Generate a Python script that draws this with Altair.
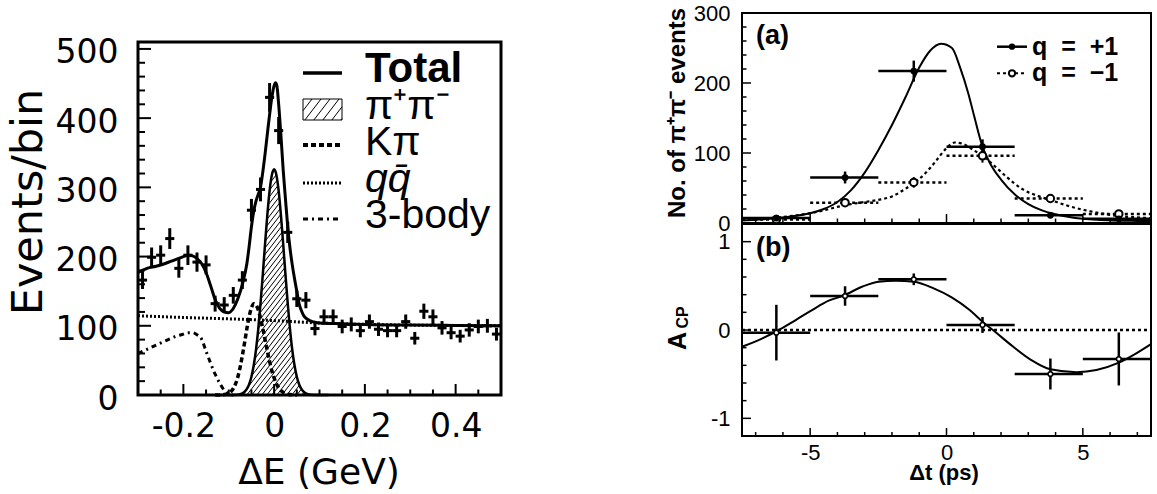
import altair as alt
import numpy as np
import pandas as pd

# ---------------- Delta E spectrum: data points ----------------
de_bins = [-0.29, -0.27, -0.25, -0.23, -0.21, -0.19, -0.17, -0.15, -0.13, -0.11,
           -0.09, -0.07, -0.05, -0.03, -0.01, 0.01, 0.03, 0.05, 0.07, 0.09,
           0.11, 0.13, 0.15, 0.17, 0.19, 0.21, 0.23, 0.25, 0.27, 0.29,
           0.31, 0.33, 0.35, 0.37, 0.39, 0.41, 0.43, 0.45, 0.47, 0.49]
de_counts = [166, 199, 202, 226, 183, 202, 192, 188, 132, 130,
             144, 166, 267, 297, 430, 382, 235, 139, 137, 96,
             113, 113, 99, 102, 93, 106, 95, 93, 93, 106,
             82, 121, 113, 97, 90, 85, 94, 99, 100, 88]
de_errors = [12.9, 14.1, 14.2, 15.0, 13.5, 14.2, 13.9, 13.7, 11.5, 11.4,
             12.0, 12.9, 16.3, 17.2, 20.7, 19.5, 15.3, 11.8, 11.7, 9.8,
             10.6, 10.6, 9.9, 10.1, 9.6, 10.3, 9.7, 9.6, 9.6, 10.3,
             9.1, 11.0, 10.6, 9.8, 9.5, 9.2, 9.7, 9.9, 10.0, 9.4]
DE_HALF_BIN = 0.01

# fit components sampled along Delta E
total_x = [-0.30, -0.28, -0.26, -0.24, -0.22, -0.20, -0.19, -0.18, -0.17, -0.16,
           -0.15, -0.14, -0.13, -0.12, -0.11, -0.10, -0.09, -0.08, -0.07, -0.06,
           -0.055, -0.05, -0.045, -0.04, -0.035, -0.03, -0.025, -0.02, -0.015, -0.01,
           -0.005, 0.0, 0.003, 0.006, 0.01, 0.015, 0.02, 0.025, 0.03, 0.035,
           0.04, 0.045, 0.05, 0.055, 0.06, 0.065, 0.07, 0.08, 0.09, 0.10,
           0.15, 0.20, 0.30, 0.40, 0.50]
total_y = [177, 183, 186, 190, 195, 200, 202, 201, 197, 190,
           177, 158, 138, 125, 120, 119, 125, 139, 160, 190,
           215, 243, 265, 280, 290, 300, 322, 348, 377, 405,
           430, 447, 451, 447, 420, 375, 325, 283, 243, 212,
           188, 168, 150, 132, 122, 115, 111, 107, 105, 104,
           103, 102, 101, 100.5, 100]
pipi_x = [-0.12, -0.10, -0.08, -0.07, -0.065, -0.06, -0.055, -0.05, -0.045, -0.04,
          -0.035, -0.03, -0.025, -0.02, -0.015, -0.01, -0.005, 0.0, 0.005, 0.01,
          0.015, 0.02, 0.025, 0.03, 0.035, 0.04, 0.045, 0.05, 0.055, 0.06,
          0.065, 0.07, 0.08, 0.10, 0.12]
pipi_y = [0, 0, 0.5, 2.4, 4.7, 8.7, 15.6, 26.4, 42.5, 65,
          95, 132, 174, 218, 260, 295, 318, 326, 318, 295,
          260, 218, 174, 132, 95, 65, 42.5, 26.4, 15.6, 8.7,
          4.7, 2.4, 0.5, 0, 0]
kpi_x = [-0.13, -0.12, -0.11, -0.10, -0.095, -0.09, -0.085, -0.08, -0.075, -0.07,
         -0.065, -0.06, -0.055, -0.05, -0.045, -0.04, -0.035, -0.03, -0.025, -0.02,
         -0.015, -0.01, -0.005, 0.0, 0.005, 0.01, 0.015, 0.02, 0.03, 0.04, 0.05]
kpi_y = [0, 0.1, 0.6, 2.6, 5.1, 9.4, 16, 26, 40, 57,
         76, 96, 113.5, 126, 132, 130, 123, 111, 96.5, 80,
         63.6, 48.5, 35, 24.5, 16.4, 10.5, 6.4, 3.8, 1.1, 0.2, 0]
qq_x = [-0.3, -0.2, -0.1, 0.0, 0.1, 0.2, 0.3, 0.4, 0.5]
qq_y = [114.5, 112, 110, 107.5, 104, 102, 101, 100.5, 100]
body3_x = [-0.30, -0.28, -0.26, -0.24, -0.22, -0.20, -0.19, -0.18, -0.17, -0.16,
           -0.15, -0.14, -0.13, -0.12, -0.11, -0.10, -0.09]
body3_y = [60, 66, 72, 78, 84, 88, 90, 90, 87, 81,
           63, 46, 30, 17, 7, 2, 0]

# ---------------- Delta t distributions ----------------
dt_edges = [-7.5, -5.0, -2.5, 0.0, 2.5, 5.0, 7.5]
dt_mean = [-6.24, -3.72, -1.20, 1.32, 3.81, 6.32]
n_plus = [7, 65, 217, 109, 11, 6]
n_plus_err = [2.6, 8.5, 15, 10.5, 3.5, 2.5]
n_minus = [5, 29, 58, 96, 35, 13]
n_minus_err = [2.2, 5.5, 7.6, 9.8, 6, 3.6]
acp = [-0.03, 0.385, 0.574, 0.057, -0.498, -0.328]
acp_err = [0.315, 0.11, 0.066, 0.09, 0.175, 0.30]

plus_fit_x = [-7.5, -7, -6.5, -6, -5.5, -5, -4.5, -4, -3.5, -3,
              -2.5, -2, -1.5, -1, -0.6, -0.2, 0.2, 0.5, 0.8, 1,
              1.32, 1.6, 2, 2.5, 3, 3.5, 4, 4.5, 5, 5.5,
              6, 6.5, 7, 7.5]
plus_fit_y = [3.5, 4.5, 6, 8, 10.5, 14, 20, 30, 47, 72,
              104, 140, 180, 222, 246, 256, 250, 222, 185, 155,
              109, 85, 62, 41, 27, 18, 12.5, 8.5, 6, 4.5,
              3.8, 3.3, 3, 2.8]
minus_fit_x = [-7.5, -6.5, -5.5, -5, -4.5, -4, -3.5, -3, -2.5, -2,
               -1.5, -1.2, -0.8, -0.4, 0, 0.3, 0.6, 1, 1.32, 1.8,
               2.2, 2.8, 3.4, 3.8, 4.5, 5, 5.5, 6.3, 7, 7.5]
minus_fit_y = [4.5, 7, 11, 14, 18, 23, 27, 30, 33, 38,
               49, 57, 70, 88, 107, 115, 113, 104, 96, 80,
               66, 48, 38, 33, 24, 19, 15, 10, 8, 7]
acp_fit_x = [-7.5, -6.75, -6.15, -5.53, -4.93, -4.32, -3.77, -3.1, -2.49, -1.86,
             -1.2, -0.47, 0.19, 0.85, 1.32, 1.78, 2.45, 3.11, 3.81, 4.77,
             5.5, 6.32, 6.96, 7.5]
acp_fit_y = [-0.19, -0.094, 0, 0.113, 0.226, 0.332, 0.39, 0.49, 0.547, 0.558,
             0.547, 0.472, 0.37, 0.226, 0.094, -0.02, -0.19, -0.34, -0.445, -0.477,
             -0.453, -0.37, -0.264, -0.16]

# ---------------- tick positions ----------------
de_major = [-0.2, 0.0, 0.2, 0.4]
de_minor = [-0.25, -0.15, -0.1, -0.05, 0.05, 0.1, 0.15, 0.25, 0.3, 0.35, 0.45]
ev_major = [0, 100, 200, 300, 400, 500]
ev_minor = [20, 40, 60, 80, 120, 140, 160, 180, 220, 240, 260, 280,
            320, 340, 360, 380, 420, 440, 460, 480]
dt_major = [-5, 0, 5]
dt_minor = [-7, -6, -4, -3, -2, -1, 1, 2, 3, 4, 6, 7]
na_major = [0, 100, 200, 300]
na_minor = [20, 40, 60, 80, 120, 140, 160, 180, 220, 240, 260, 280]
acp_major = [-1, 0, 1]
acp_minor = [-0.8, -0.6, -0.4, -0.2, 0.2, 0.4, 0.6, 0.8]

# ---------------- layout (pixel ranges of the three frames) ----------------
W, H = 1157, 494
LX0, LX1, LY0, LY1 = 138, 501, 395, 42          # Delta E panel
RX0, RX1 = 742, 1151                            # Delta t panels
AY0, AY1 = 223, 13                              # (a)
BY0, BY1 = 436, 224                             # (b)
DE_DOM, EV_DOM = [-0.3, 0.5], [0, 510]
DT_DOM, NA_DOM, ACP_DOM = [-7.5, 7.5], [0, 300], [-1.2, 1.2]


def scale(dom, lo, hi):
    return alt.Scale(domain=dom, range=[lo, hi], nice=False, zero=False)


sxL, syL = scale(DE_DOM, LX0, LX1), scale(EV_DOM, LY0, LY1)
sxR, syA, syB = scale(DT_DOM, RX0, RX1), scale(NA_DOM, AY0, AY1), scale(ACP_DOM, BY0, BY1)

one = pd.DataFrame({"k": [0]})
BLACK = "black"


def label_axis(orient, offset, values, font, size, pad, expr, weight="normal", loff=0):
    return alt.Axis(orient=orient, offset=offset, values=values, ticks=False, domain=False,
                    grid=False, labelFont=font, labelFontSize=size, labelFontWeight=weight,
                    labelColor=BLACK, labelPadding=pad, labelExpr=expr, labelFlush=False,
                    labelOverlap=False, labelBound=False, labelOffset=loff, title=None)


def curve(xs, ys, sx, sy, width, dash=None, ax=None, ay=None):
    df = pd.DataFrame({"x": xs, "y": ys})
    kw = dict(color=BLACK, strokeWidth=width, interpolate="monotone")
    if dash:
        kw["strokeDash"] = dash
    return alt.Chart(df).mark_line(**kw).encode(
        x=alt.X("x:Q", scale=sx, axis=ax), y=alt.Y("y:Q", scale=sy, axis=ay))


def frame(xd, yd, sx, sy, width):
    df = pd.DataFrame({"x0": [xd[0]], "x1": [xd[1]], "y0": [yd[0]], "y1": [yd[1]]})
    return alt.Chart(df).mark_rect(fillOpacity=0, stroke=BLACK, strokeWidth=width).encode(
        x=alt.X("x0:Q", scale=sx, axis=None), x2="x1:Q",
        y=alt.Y("y0:Q", scale=sy, axis=None), y2="y1:Q")


def yticks(values, sy, x0, length, width):
    df = pd.DataFrame({"v": values})
    return alt.Chart(df).mark_rule(color=BLACK, strokeWidth=width).encode(
        y=alt.Y("v:Q", scale=sy, axis=None), x=alt.value(x0), x2=alt.value(x0 + length))


def xticks(values, sx, y0, length, width):
    df = pd.DataFrame({"v": values})
    return alt.Chart(df).mark_rule(color=BLACK, strokeWidth=width).encode(
        x=alt.X("v:Q", scale=sx, axis=None), y=alt.value(y0), y2=alt.value(y0 - length))


def px_rules(rows, width, dash=None):
    df = pd.DataFrame(rows, columns=["x0", "y0", "x1", "y1"])
    kw = dict(color=BLACK, strokeWidth=width)
    if dash:
        kw["strokeDash"] = dash
    return alt.Chart(df).mark_rule(**kw).encode(
        x=alt.X("x0:Q", scale=None), y=alt.Y("y0:Q", scale=None), x2="x1:Q", y2="y1:Q")


def text(txt, x, y, size, font="Liberation Sans", weight="normal", style="normal",
         align="left", angle=0):
    return alt.Chart(one).mark_text(text=txt, font=font, fontSize=size, fontWeight=weight,
                                    fontStyle=style, align=align, baseline="alphabetic",
                                    angle=angle, color=BLACK).encode(
        x=alt.value(x), y=alt.value(y))


# ---------- hatching under the pi+pi- component ----------
px_per_de = (LX1 - LX0) / (DE_DOM[1] - DE_DOM[0])
px_per_ev = (LY0 - LY1) / (EV_DOM[1] - EV_DOM[0])


def hatch_segments(xs, ys, spacing_px=5.0, slope_px=1.3):
    k = slope_px * px_per_de / px_per_ev
    grid = np.linspace(-0.12, 0.12, 4801)
    top = np.interp(grid, xs, ys)
    segs = []
    c = -0.6
    while c < 0.12:
        line = k * (grid - c)
        inside = (line >= 0) & (line <= top) & (top > 0.3)
        edges = np.flatnonzero(np.diff(np.concatenate([[0], inside.astype(int), [0]])))
        for i0, i1 in zip(edges[::2], edges[1::2] - 1):
            if (grid[i1] - grid[i0]) * px_per_de > 0.6:
                segs.append((grid[i0], k * (grid[i0] - c), grid[i1], k * (grid[i1] - c)))
        c += spacing_px / px_per_de
    return pd.DataFrame(segs, columns=["x0", "y0", "x1", "y1"])


hatch = alt.Chart(hatch_segments(pipi_x, pipi_y)).mark_rule(color=BLACK, strokeWidth=1).encode(
    x=alt.X("x0:Q", scale=sxL, axis=None), x2="x1:Q",
    y=alt.Y("y0:Q", scale=syL, axis=None), y2="y1:Q")

# ---------- Delta E panel ----------
de_df = pd.DataFrame({"de": de_bins, "n": de_counts, "err": de_errors})
de_v = alt.Chart(de_df).transform_calculate(
    lo="datum.n - datum.err", hi="datum.n + datum.err").mark_rule(
    color=BLACK, strokeWidth=3).encode(
    x=alt.X("de:Q", scale=sxL, axis=None), y=alt.Y("lo:Q", scale=syL, axis=None), y2="hi:Q")
de_h = alt.Chart(de_df).transform_calculate(
    x0=f"datum.de - {DE_HALF_BIN}", x1=f"datum.de + {DE_HALF_BIN}").mark_rule(
    color=BLACK, strokeWidth=3).encode(
    x=alt.X("x0:Q", scale=sxL, axis=None), x2="x1:Q", y=alt.Y("n:Q", scale=syL, axis=None))

de_fmt = ("datum.value == 0 ? '0' : (datum.value < 0 ? '-' + format(-datum.value, '.1f')"
          " : format(datum.value, '.1f'))")
int_fmt = "datum.value < 0 ? '-' + format(-datum.value, 'd') : format(datum.value, 'd')"

ax_de = label_axis("bottom", LY0 - H, de_major, "DejaVu Sans", 33, 15, de_fmt)
ax_ev = label_axis("left", -LX0, ev_major, "DejaVu Sans", 33, 20, int_fmt, loff=4)

left_layers = [
    hatch,
    frame(DE_DOM, EV_DOM, sxL, syL, 3),
    yticks(ev_major, syL, LX0, 13, 2),
    yticks(ev_minor, syL, LX0, 7, 2),
    xticks(de_major, sxL, LY0, 11, 2),
    xticks(de_minor, sxL, LY0, 5.5, 2),
    curve(qq_x, qq_y, sxL, syL, 3, dash=[2, 2]),
    curve(body3_x, body3_y, sxL, syL, 3, dash=[5, 4, 2, 4]),
    curve(kpi_x, kpi_y, sxL, syL, 3.5, dash=[5, 3]),
    curve(pipi_x, pipi_y, sxL, syL, 2.5),
    curve(total_x, total_y, sxL, syL, 3, ax=ax_de, ay=ax_ev),
    de_v, de_h,
]

# legend of the Delta E panel
sw0, sw1 = 303, 342
box_top, box_bot = 99, 120


def box_hatch(x0, x1, y0, y1, spacing=9.0, slope=1.3):
    rows = []
    c = x0 - (y1 - y0) / slope
    while c < x1:
        xa, xb = max(x0, c), min(x1, c + (y1 - y0) / slope)
        if xb - xa > 0.5:
            rows.append((xa, y1 - slope * (xa - c), xb, y1 - slope * (xb - c)))
        c += spacing
    return rows


left_legend = [
    px_rules([(sw0, 73, sw1, 73)], 3.5),
    px_rules([(sw0, box_top, sw1, box_top), (sw0, box_bot, sw1, box_bot),
              (sw0, box_top, sw0, box_bot), (sw1, box_top, sw1, box_bot)], 1),
    px_rules(box_hatch(sw0, sw1, box_top, box_bot), 1),
    px_rules([(sw0, 145, sw1, 145)], 4, dash=[5, 3]),
    px_rules([(sw0, 183, sw1, 183)], 3, dash=[2, 2]),
    px_rules([(sw0, 219, sw1, 219)], 3, dash=[5, 4, 2, 4]),
    text("Total", 365, 82, 42, weight="bold"),
    text("\u03c0\u207a\u03c0\u207b", 365, 118.5, 41),
    text("K\u03c0", 365, 155, 41),
    text("qq\u0304", 365, 191.5, 41, style="italic"),
    text("3-body", 365, 228, 41),
    text("Events/bin", 42, 202, 43, font="DejaVu Sans", align="center", angle=270),
    text("\u0394E (GeV)", 319, 484, 36, font="DejaVu Sans", align="center"),
]

# ---------- Delta t panel (a): yields ----------
dt_df = pd.DataFrame({"t": dt_mean, "lo": dt_edges[:-1], "hi": dt_edges[1:],
                      "np": n_plus, "npe": n_plus_err, "nm": n_minus, "nme": n_minus_err,
                      "a": acp, "ae": acp_err})


def hbar(col, sy, width, dash=None):
    kw = dict(color=BLACK, strokeWidth=width)
    if dash:
        kw["strokeDash"] = dash
    return alt.Chart(dt_df).mark_rule(**kw).encode(
        x=alt.X("lo:Q", scale=sxR, axis=None), x2="hi:Q", y=alt.Y(f"{col}:Q", scale=sy, axis=None))


def vbar(col, ecol, sy, width):
    return alt.Chart(dt_df).transform_calculate(
        e0=f"datum.{col} - datum.{ecol}", e1=f"datum.{col} + datum.{ecol}").mark_rule(
        color=BLACK, strokeWidth=width).encode(
        x=alt.X("t:Q", scale=sxR, axis=None), y=alt.Y("e0:Q", scale=sy, axis=None), y2="e1:Q")


def dots(col, sy, size, open_=False, sw=2):
    if open_:
        mk = alt.Chart(dt_df).mark_circle(size=size, fill="white", stroke=BLACK,
                                          strokeWidth=sw, opacity=1)
    else:
        mk = alt.Chart(dt_df).mark_circle(size=size, color=BLACK, opacity=1)
    return mk.encode(x=alt.X("t:Q", scale=sxR, axis=None), y=alt.Y(f"{col}:Q", scale=sy, axis=None))


ax_na = label_axis("left", -RX0, na_major, "Liberation Sans", 22, 12, int_fmt)
ax_dt = label_axis("bottom", BY0 - H, dt_major, "Liberation Sans", 22, 6, int_fmt)
ax_acp = label_axis("left", -RX0, acp_major, "Liberation Sans", 22, 12, int_fmt)

panel_a = [
    frame(DT_DOM, NA_DOM, sxR, syA, 2),
    yticks(na_major, syA, RX0, 9, 1.5),
    yticks(na_minor, syA, RX0, 4.5, 1.5),
    xticks(dt_major, sxR, AY0, 9, 1.5),
    xticks(dt_minor, sxR, AY0, 4.5, 1.5),
    curve(minus_fit_x, minus_fit_y, sxR, syA, 2.2, dash=[3, 3]),
    curve(plus_fit_x, plus_fit_y, sxR, syA, 2, ay=ax_na),
    hbar("nm", syA, 2.5, dash=[3, 3]),
    vbar("nm", "nme", syA, 2),
    hbar("np", syA, 2.5),
    vbar("np", "npe", syA, 2.5),
    dots("nm", syA, 55, open_=True),
    dots("np", syA, 45),
]

# ---------- Delta t panel (b): asymmetry ----------
zero_df = pd.DataFrame({"x0": [DT_DOM[0]], "x1": [DT_DOM[1]], "y": [0.0]})
zero_line = alt.Chart(zero_df).mark_rule(color=BLACK, strokeWidth=2.5, strokeDash=[3, 3]).encode(
    x=alt.X("x0:Q", scale=sxR, axis=None), x2="x1:Q", y=alt.Y("y:Q", scale=syB, axis=None))

panel_b = [
    frame(DT_DOM, ACP_DOM, sxR, syB, 2),
    yticks(acp_major, syB, RX0, 9, 1.5),
    yticks(acp_minor, syB, RX0, 4.5, 1.5),
    xticks(dt_major, sxR, BY0, 8, 1.5),
    xticks(dt_minor, sxR, BY0, 4, 1.5),
    zero_line,
    curve(acp_fit_x, acp_fit_y, sxR, syB, 2, ax=ax_dt, ay=ax_acp),
    hbar("a", syB, 2.5),
    vbar("a", "ae", syB, 2.5),
    dots("a", syB, 22, open_=True, sw=1.5),
]

# legend and titles of the Delta t panels
leg_pts = pd.DataFrame({"x": [1012, 1012], "y": [46.7, 73.3]})
right_text = [
    px_rules([(997, 46.7, 1027, 46.7)], 2.5),
    px_rules([(997, 73.3, 1027, 73.3)], 2, dash=[3, 3]),
    alt.Chart(leg_pts.iloc[[0]]).mark_circle(size=40, color=BLACK, opacity=1).encode(
        x=alt.X("x:Q", scale=None), y=alt.Y("y:Q", scale=None)),
    alt.Chart(leg_pts.iloc[[1]]).mark_circle(size=40, fill="white", stroke=BLACK,
                                            strokeWidth=2, opacity=1).encode(
        x=alt.X("x:Q", scale=None), y=alt.Y("y:Q", scale=None)),
    text("q\u00a0\u00a0=\u00a0\u00a0+1", 1032, 54.5, 25, weight="bold"),
    text("q\u00a0\u00a0=\u00a0\u00a0\u22121", 1032, 81, 25, weight="bold"),
    text("(a)", 756, 44, 27, weight="bold"),
    text("(b)", 756, 256, 27, weight="bold"),
    text("No. of \u03c0\u207a\u03c0\u207b events", 685, 113, 24, weight="bold",
         align="center", angle=270),
    text("A", 686, 341, 25, weight="bold", align="center", angle=270),
    text("CP", 688, 317.5, 16, weight="bold", align="center", angle=270),
    text("\u0394t (ps)", 944, 480, 22, weight="bold", align="center"),
]

chart = alt.layer(*(left_layers + left_legend + panel_a + panel_b + right_text)).resolve_scale(
    x="independent", y="independent"
).properties(
    width=W, height=H, autosize=alt.AutoSizeParams(type="none"), padding=0,
    background="white"
).configure_view(stroke=None)

chart.save("out.html", embed_options={"renderer": "svg", "actions": False})
